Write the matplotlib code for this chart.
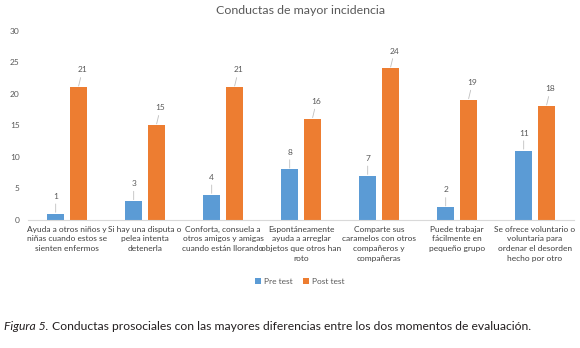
import matplotlib

matplotlib.use("Agg")
import matplotlib.pyplot as plt
import numpy as np

categories = [
    "Ayuda a otros niños y\nniñas cuando estos se\nsienten enfermos",
    "Si hay una disputa o\npelea intenta\ndetenerla",
    "Conforta, consuela a\notros amigos y amigas\ncuando están llorando",
    "Espontáneamente\nayuda a arreglar\nobjetos que otros han\nroto",
    "Comparte sus\ncaramelos con otros\ncompañeros y\ncompañeras",
    "Puede trabajar\nfácilmente en\npequeño grupo",
    "Se ofrece voluntario o\nvoluntaria para\nordenar el desorden\nhecho por otro",
]
pre_test = [1, 3, 4, 8, 7, 2, 11]
post_test = [21, 15, 21, 16, 24, 19, 18]
y_ticks = [0, 5, 10, 15, 20, 25, 30]

blue = "#5B9BD5"
orange = "#ED7D31"
gray = "#595959"

plt.rcParams["font.family"] = ["Lato", "DejaVu Sans"]

fig = plt.figure(figsize=(5.8, 3.48), dpi=100)
ax = fig.add_axes([28 / 580, 1 - 220 / 348, 546 / 580, 189.5 / 348])

x = np.arange(len(categories))
w = 0.225
b1 = ax.bar(x - 0.145, pre_test, w, color=blue, label="Pre test")
b2 = ax.bar(x + 0.145, post_test, w, color=orange, label="Post test")

for bars, vals, dx in [(b1, pre_test, 0), (b2, post_test, 3)]:
    for r, v in zip(bars, vals):
        cx = r.get_x() + r.get_width() / 2
        ax.annotate(str(v), xy=(cx, v), xytext=(dx, 10), textcoords="offset points",
                    ha="center", va="bottom", fontsize=6, color=gray,
                    arrowprops=dict(arrowstyle="-", color="#BFBFBF", lw=0.6,
                                    shrinkA=1, shrinkB=1))

ax.set_xlim(-0.5, len(categories) - 0.5)
ax.set_ylim(0, 30)
ax.set_yticks(y_ticks)
ax.set_yticklabels([str(t) for t in y_ticks], fontsize=6, color=gray)
ax.set_xticks(x)
ax.set_xticklabels(categories, fontsize=6, color="#404040", linespacing=1.45, va="top")
ax.tick_params(axis="both", length=0)
ax.tick_params(axis="y", pad=6)
ax.tick_params(axis="x", pad=4)
for s in ["top", "right", "left"]:
    ax.spines[s].set_visible(False)
ax.spines["bottom"].set_color("#D9D9D9")
ax.spines["bottom"].set_linewidth(0.8)

ax.set_title("Conductas de mayor incidencia", fontsize=8.9, color=gray, pad=12)

fig.legend(handles=[b1, b2], loc="center", bbox_to_anchor=(300 / 580, 1 - 281 / 348),
           ncol=2, frameon=False, fontsize=6, handlelength=0.7, handleheight=0.7,
           handletextpad=0.4, columnspacing=1.2, labelcolor=gray)

fig.text(4 / 580, 1 - 327 / 348, "Figura 5.", fontsize=8.7, style="italic",
         color="#231F20", va="center", ha="left")
fig.text(52 / 580, 1 - 327 / 348,
         "Conductas prosociales con las mayores diferencias entre los dos momentos de evaluación.",
         fontsize=8.7, color="#231F20", va="center", ha="left")

fig.savefig("out.png", dpi=100)
